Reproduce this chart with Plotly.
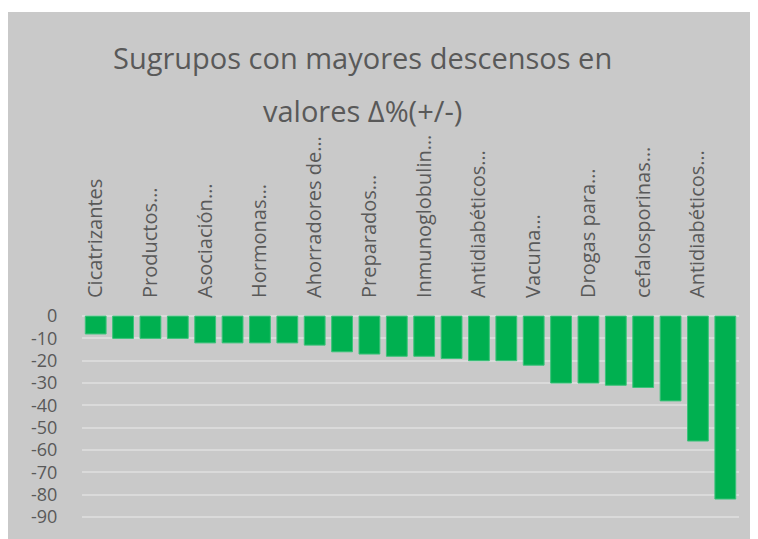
import plotly.graph_objects as go

positions = list(range(24))
values = [-8, -10, -10, -10, -12, -12, -12, -12, -13, -16, -17, -18,
          -18, -19, -20, -20, -22, -30, -30, -31, -32, -38, -56, -82]
tick_positions = [0, 2, 4, 6, 8, 10, 12, 14, 16, 18, 20, 22]
tick_labels = ["Cicatrizantes", "Productos…", "Asociación…", "Hormonas…",
               "Ahorradores de…", "Preparados…", "Inmunoglobulin…",
               "Antidiabéticos…", "Vacuna…", "Drogas para…",
               "cefalosporinas…", "Antidiabéticos…"]
y_ticks = [0, -10, -20, -30, -40, -50, -60, -70, -80, -90]

# page body has an 8px margin, so the figure starts at (8, 8)
W, H = 750, 531
L, R, T, B = 74, 19, 307, 21
pw, ph = W - L - R, H - T - B

fig = go.Figure(go.Bar(
    x=positions, y=values,
    marker=dict(color="#00b050", line=dict(color="#3cc27a", width=1)),
    width=0.76,
))

gray = "#c9c9c9"
fig.update_layout(
    width=W, height=H,
    margin=dict(l=L, r=R, t=T, b=B),
    paper_bgcolor="white",
    plot_bgcolor=gray,
    showlegend=False,
    font=dict(family="Open Sans", color="#595959"),
    shapes=[dict(type="rect", xref="paper", yref="paper", layer="below",
                 x0=(0 - L) / pw, x1=(W - L + 5) / pw,
                 y0=-(B + 5) / ph, y1=(H - B - 4) / ph,
                 fillcolor=gray, line=dict(width=0))],
    annotations=[
        dict(text="Sugrupos con mayores descensos en", xref="paper", yref="paper",
             x=(354 - L) / pw, y=(H - B - 49) / ph, showarrow=False,
             font=dict(size=29, color="#595959", family="Open Sans"),
             xanchor="center", yanchor="middle"),
        dict(text="valores Δ%(+/-)", xref="paper", yref="paper",
             x=(354 - L) / pw, y=(H - B - 103) / ph, showarrow=False,
             font=dict(size=29, color="#595959", family="Open Sans"),
             xanchor="center", yanchor="middle"),
    ],
)
fig.update_xaxes(
    range=[-0.5, 23.5], side="top",
    tickmode="array", tickvals=tick_positions, ticktext=tick_labels,
    tickangle=-90, tickfont=dict(size=20, color="#595959"),
    ticks="outside", ticklen=12, tickcolor="rgba(0,0,0,0)",
    showgrid=False, zeroline=False, showline=False,
)
fig.update_yaxes(
    range=[-90.5, 0.5], tickmode="array", tickvals=y_ticks,
    ticktext=[str(v) for v in y_ticks],
    tickfont=dict(size=18, color="#595959"),
    showgrid=True, gridcolor="#dadada", gridwidth=2,
    zeroline=True, zerolinecolor="#dadada", zerolinewidth=2,
    ticks="outside", ticklen=20, tickcolor="rgba(0,0,0,0)",
)
fig.write_html("out.html")
